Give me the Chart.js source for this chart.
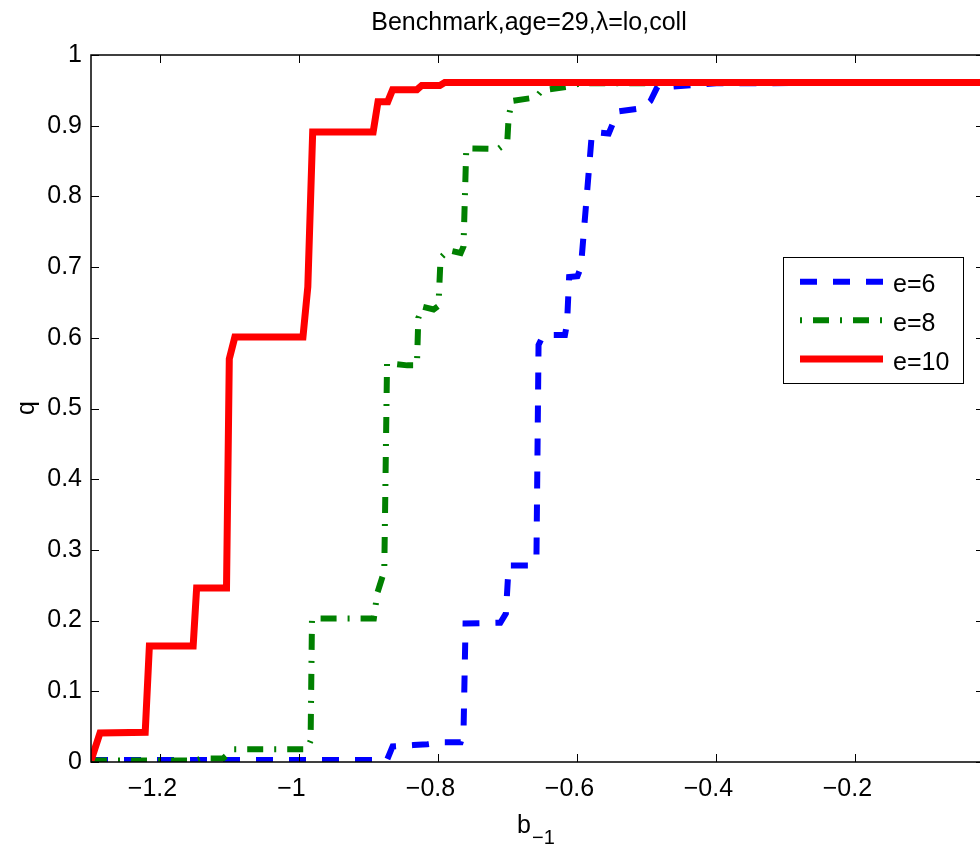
<!DOCTYPE html>
<html lang="en">
<head>
<meta charset="UTF-8">
<title>Benchmark,age=29,λ=lo,coll</title>
<script src="https://cdn.jsdelivr.net/npm/chart.js@4/dist/chart.umd.min.js"></script>
<style>
  * { margin: 0; padding: 0; box-sizing: border-box; }
  html, body { width: 980px; height: 848px; overflow: hidden; background: #fff; }
  canvas { display: block; }
</style>
</head>
<body>
<canvas id="c" width="1000" height="848"></canvas>
<script>
const FONT = '"Liberation Sans", Arial, Helvetica, sans-serif'

const xTicks = [-1.2, -1, -0.8, -0.6, -0.4, -0.2]
const yTicks = [0, 0.1, 0.2, 0.3, 0.4, 0.5, 0.6, 0.7, 0.8, 0.9, 1]

// e=6
const e6X = [-1.30, -0.874, -0.866, -0.836, -0.816, -0.793, -0.768, -0.764, -0.761, -0.711, -0.703, -0.699, -0.666, -0.659, -0.656, -0.649, -0.618, -0.615, -0.612, -0.600, -0.595, -0.580, -0.577, -0.555, -0.542, -0.506, -0.495, -0.485, -0.466, -0.442, -0.40, -0.015]
const e6Y = [0.003, 0.003, 0.022, 0.024, 0.025, 0.028, 0.028, 0.04, 0.196, 0.197, 0.21, 0.278, 0.278, 0.29, 0.59, 0.604, 0.604, 0.62, 0.686, 0.687, 0.70, 0.88, 0.891, 0.889, 0.92, 0.925, 0.935, 0.955, 0.955, 0.957, 0.96, 0.961]

// e=8
const e8X = [-1.30, -1.15, -1.14, -1.11, -1.095, -0.989, -0.984, -0.982, -0.893, -0.888, -0.878, -0.874, -0.845, -0.831, -0.829, -0.823, -0.807, -0.800, -0.797, -0.786, -0.768, -0.764, -0.760, -0.714, -0.701, -0.699, -0.694, -0.660, -0.651, -0.614, -0.596, -0.015]
const e8Y = [0.002, 0.002, 0.005, 0.005, 0.018, 0.018, 0.03, 0.203, 0.203, 0.239, 0.27, 0.564, 0.561, 0.561, 0.628, 0.644, 0.64, 0.645, 0.713, 0.724, 0.72, 0.729, 0.868, 0.867, 0.877, 0.913, 0.935, 0.94, 0.95, 0.955, 0.96, 0.961]

// e=10
const e10X = [-1.30, -1.287, -1.222, -1.216, -1.153, -1.148, -1.105, -1.101, -1.093, -0.995, -0.988, -0.981, -0.894, -0.887, -0.873, -0.866, -0.831, -0.824, -0.798, -0.791, -0.015]
const e10Y = [0.002, 0.041, 0.042, 0.164, 0.164, 0.246, 0.246, 0.57, 0.601, 0.601, 0.672, 0.891, 0.891, 0.934, 0.934, 0.951, 0.951, 0.957, 0.957, 0.961, 0.961]

const pts = (xs, ys) => xs.map((x, i) => ({ x, y: ys[i] }))
const fmt = v => (v < 0 ? '\u2212' : '') + Math.abs(v).toString()

const datasets = [
  { label: 'e=6', data: pts(e6X, e6Y), borderColor: '#0000ff', borderWidth: 6, borderDash: [17, 16], legendOffset: 0, order: 3 },
  { label: 'e=8', data: pts(e8X, e8Y), borderColor: '#008000', borderWidth: 6, borderDash: [16, 11, 2, 11], legendOffset: 27, order: 2 },
  { label: 'e=10', data: pts(e10X, e10Y), borderColor: '#ff0000', borderWidth: 7, borderDash: [], legendOffset: 0, order: 1 }
]
datasets.forEach(d => { d.showLine = true; d.pointRadius = 0; d.borderCapStyle = 'butt'; d.borderJoinStyle = 'miter'; d.tension = 0 })

const decor = {
  id: 'decor',
  afterDatasetsDraw(chart) {
    const { ctx, chartArea: a, scales: { x, y } } = chart
    ctx.save()

    // box + inward ticks
    ctx.strokeStyle = '#000'
    ctx.lineWidth = 1.5
    ctx.strokeRect(a.left, a.top, a.right - a.left, a.bottom - a.top)
    ctx.lineWidth = 1
    ctx.beginPath()
    xTicks.forEach(v => {
      const px = Math.round(x.getPixelForValue(v)) + 0.5
      ctx.moveTo(px, a.bottom); ctx.lineTo(px, a.bottom - 8)
      ctx.moveTo(px, a.top); ctx.lineTo(px, a.top + 8)
    })
    yTicks.forEach(v => {
      const py = Math.round(y.getPixelForValue(v)) + 0.5
      ctx.moveTo(a.left, py); ctx.lineTo(a.left + 8, py)
      ctx.moveTo(a.right, py); ctx.lineTo(a.right - 8, py)
    })
    ctx.stroke()

    // legend
    const lx = 783.5, ly = 257.5, lw = 180, lh = 126
    ctx.fillStyle = '#fff'
    ctx.fillRect(lx, ly, lw, lh)
    ctx.strokeStyle = '#000'
    ctx.lineWidth = 1
    ctx.strokeRect(lx, ly, lw, lh)
    const rows = [281.7, 320.3, 359]
    chart.data.datasets.forEach((d, i) => {
      ctx.strokeStyle = d.borderColor
      ctx.lineWidth = d.borderWidth
      ctx.lineCap = 'butt'
      ctx.setLineDash(d.borderDash)
      ctx.lineDashOffset = d.legendOffset
      ctx.beginPath()
      ctx.moveTo(800, rows[i]); ctx.lineTo(883, rows[i])
      ctx.stroke()
      ctx.setLineDash([])
      ctx.fillStyle = '#000'
      ctx.font = '25px ' + FONT
      ctx.textAlign = 'left'
      ctx.textBaseline = 'alphabetic'
      ctx.fillText(d.label, 893, rows[i] + 10.5)
    })

    // title
    ctx.fillStyle = '#000'
    ctx.font = '25px ' + FONT
    ctx.textAlign = 'center'
    ctx.textBaseline = 'alphabetic'
    ctx.fillText('Benchmark,age=29,\u03bb=lo,coll', 529, 30)

    // y label
    ctx.save()
    ctx.translate(27, 408)
    ctx.rotate(-Math.PI / 2)
    ctx.textBaseline = 'middle'
    ctx.fillText('q', 0, 0)
    ctx.restore()

    // x label b_{-1}
    ctx.textAlign = 'left'
    ctx.font = '25px ' + FONT
    ctx.fillText('b', 517, 833)
    ctx.font = '20px ' + FONT
    ctx.fillText('\u22121', 532, 844)

    ctx.restore()
  }
}

new Chart(document.getElementById('c'), {
  type: 'scatter',
  data: { datasets },
  options: {
    responsive: false,
    animation: false,
    devicePixelRatio: 1,
    layout: { padding: { top: 55, right: 16, left: 0, bottom: 0 } },
    plugins: { legend: { display: false }, tooltip: { enabled: false }, title: { display: false } },
    scales: {
      x: {
        type: 'linear', min: -1.3, max: -0.015,
        afterBuildTicks: s => { s.ticks = xTicks.map(v => ({ value: v })) },
        afterFit: s => { s.height = 86 },
        grid: { display: false, drawTicks: false },
        border: { display: false },
        ticks: { color: '#000', font: { family: FONT, size: 25 }, padding: 12, labelOffset: -8, maxRotation: 0, autoSkip: false, callback: v => fmt(v) }
      },
      y: {
        type: 'linear', min: 0, max: 1,
        afterBuildTicks: s => { s.ticks = yTicks.map(v => ({ value: v })) },
        afterFit: s => { s.width = 91 },
        grid: { display: false, drawTicks: false },
        border: { display: false },
        ticks: { color: '#000', font: { family: FONT, size: 25 }, padding: 9, autoSkip: false, callback: v => fmt(v) }
      }
    }
  },
  plugins: [decor]
})
</script>
</body>
</html>
